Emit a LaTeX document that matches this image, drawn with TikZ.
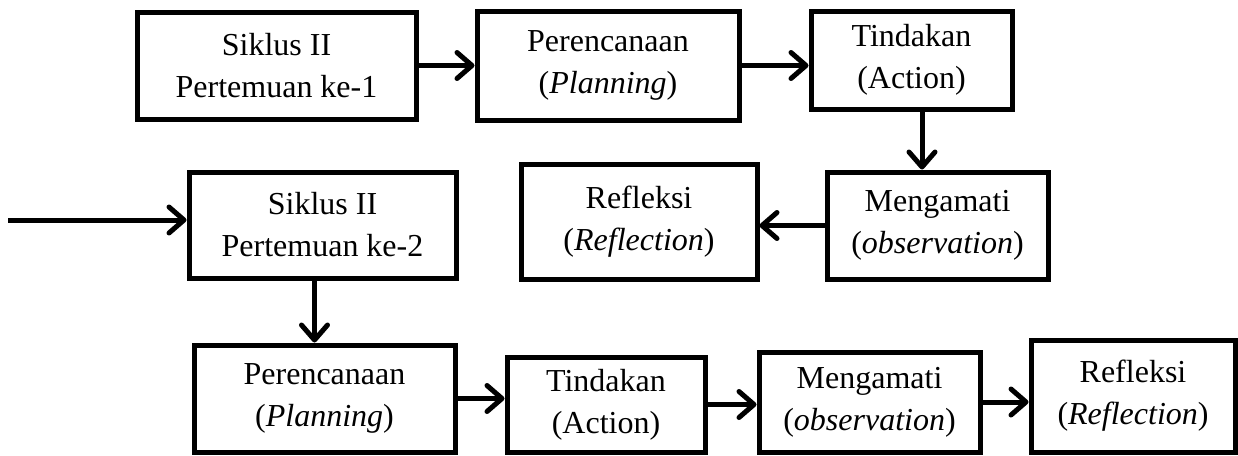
\documentclass[tikz,border=0pt]{standalone}
\usepackage{fontspec}
\setmainfont{Liberation Serif}
\usetikzlibrary{arrows.meta}
\begin{document}
\begin{tikzpicture}[x=1pt,y=-1pt,
  box/.style 2 args={draw, line width=5pt, align=center, inner sep=0pt,
    minimum width=#1, minimum height=#2, font=\fontsize{32}{42}\selectfont},
  conn/.style={line width=5pt, -{Straight Barb[length=15pt,width=26pt,line cap=round,line join=round]}}]
\useasboundingbox (0,0) rectangle (1238,455);
\fill[white] (0,0) rectangle (1238,455);
% top row
\node[box={279pt}{107pt}] (b1) at (276.5,65.5) {Siklus II\\Pertemuan ke-1};
\node[box={262pt}{109pt}] (b2) at (608,65.5) {Perencanaan\\(\textit{Planning})};
\node[box={201pt}{98pt}] (b3) at (911.5,60) {Tindakan\\(Action)};
% middle row
\node[box={221pt}{107pt}] (m1) at (937.5,225.5) {Mengamati\\(\textit{observation})};
\node[box={236pt}{115pt}] (r1) at (639,221.5) {Refleksi\\(\textit{Reflection})};
\node[box={267pt}{106pt}] (s2) at (322.5,225) {Siklus II\\Pertemuan ke-2};
% bottom row
\node[box={261pt}{107pt}] (p2) at (324.5,398.5) {Perencanaan\\(\textit{Planning})};
\node[box={198pt}{95pt}] (t2) at (606,404.5) {Tindakan\\(Action)};
\node[box={221pt}{100pt}] (m2) at (869.5,402) {Mengamati\\(\textit{observation})};
\node[box={204pt}{112pt}] (r2) at (1133,396) {Refleksi\\(\textit{Reflection})};
% connectors
\coordinate (start) at (8,220);
\draw[conn] (b1) -- (b2);
\draw[conn] (b2.east) -- (b2.east -| b3.west);
\draw[conn] ([xshift=10.5pt]b3.south) -- ([xshift=10.5pt]b3.south |- m1.north);
\draw[conn] (m1.west) -- (m1.west -| r1.east);
\draw[conn] (start) -- (start -| s2.west);
\draw[conn] ([xshift=-8pt]s2.south) -- ([xshift=-8pt]s2.south |- p2.north);
\draw[conn] (p2.east) -- (p2.east -| t2.west);
\draw[conn] (t2.east) -- (t2.east -| m2.west);
\draw[conn] (m2.east) -- (m2.east -| r2.west);
\end{tikzpicture}
\end{document}
